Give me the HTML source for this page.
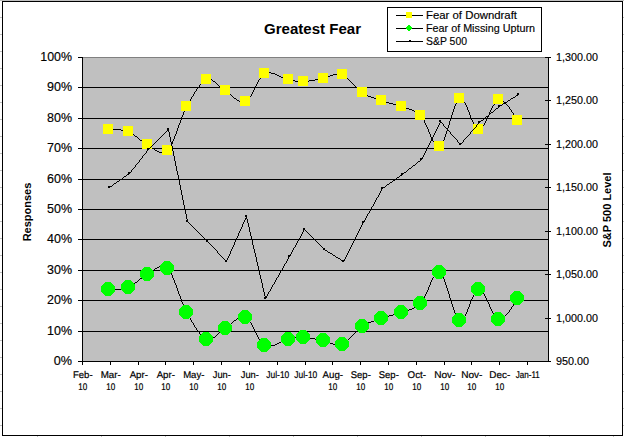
<!DOCTYPE html><html><head><meta charset="utf-8"><style>
html,body{margin:0;padding:0;background:#fff;overflow:hidden;}svg{display:block;}
text{font-family:"Liberation Sans",sans-serif;}
</style></head><body>
<svg width="624" height="437" viewBox="0 0 624 437" shape-rendering="crispEdges">
<rect x="0" y="0" width="624" height="437" fill="#fff"/>
<g fill="#c0c0c0">
<rect x="0" y="0" width="624" height="1"/>
<rect x="0" y="17" width="2" height="1"/>
<rect x="623" y="17" width="1" height="1"/>
<rect x="0" y="34" width="2" height="1"/>
<rect x="623" y="34" width="1" height="1"/>
<rect x="0" y="51" width="2" height="1"/>
<rect x="623" y="51" width="1" height="1"/>
<rect x="0" y="68" width="2" height="1"/>
<rect x="623" y="68" width="1" height="1"/>
<rect x="0" y="85" width="2" height="1"/>
<rect x="623" y="85" width="1" height="1"/>
<rect x="0" y="102" width="2" height="1"/>
<rect x="623" y="102" width="1" height="1"/>
<rect x="0" y="119" width="2" height="1"/>
<rect x="623" y="119" width="1" height="1"/>
<rect x="0" y="136" width="2" height="1"/>
<rect x="623" y="136" width="1" height="1"/>
<rect x="0" y="153" width="2" height="1"/>
<rect x="623" y="153" width="1" height="1"/>
<rect x="0" y="170" width="2" height="1"/>
<rect x="623" y="170" width="1" height="1"/>
<rect x="0" y="187" width="2" height="1"/>
<rect x="623" y="187" width="1" height="1"/>
<rect x="0" y="204" width="2" height="1"/>
<rect x="623" y="204" width="1" height="1"/>
<rect x="0" y="221" width="2" height="1"/>
<rect x="623" y="221" width="1" height="1"/>
<rect x="0" y="238" width="2" height="1"/>
<rect x="623" y="238" width="1" height="1"/>
<rect x="0" y="255" width="2" height="1"/>
<rect x="623" y="255" width="1" height="1"/>
<rect x="0" y="272" width="2" height="1"/>
<rect x="623" y="272" width="1" height="1"/>
<rect x="0" y="289" width="2" height="1"/>
<rect x="623" y="289" width="1" height="1"/>
<rect x="0" y="306" width="2" height="1"/>
<rect x="623" y="306" width="1" height="1"/>
<rect x="0" y="323" width="2" height="1"/>
<rect x="623" y="323" width="1" height="1"/>
<rect x="0" y="340" width="2" height="1"/>
<rect x="623" y="340" width="1" height="1"/>
<rect x="0" y="357" width="2" height="1"/>
<rect x="623" y="357" width="1" height="1"/>
<rect x="0" y="374" width="2" height="1"/>
<rect x="623" y="374" width="1" height="1"/>
<rect x="0" y="391" width="2" height="1"/>
<rect x="623" y="391" width="1" height="1"/>
<rect x="0" y="408" width="2" height="1"/>
<rect x="623" y="408" width="1" height="1"/>
<rect x="0" y="425" width="2" height="1"/>
<rect x="623" y="425" width="1" height="1"/>
<rect x="37" y="436" width="1" height="1"/>
<rect x="101" y="436" width="1" height="1"/>
<rect x="165" y="436" width="1" height="1"/>
<rect x="229" y="436" width="1" height="1"/>
<rect x="293" y="436" width="1" height="1"/>
<rect x="357" y="436" width="1" height="1"/>
<rect x="421" y="436" width="1" height="1"/>
<rect x="485" y="436" width="1" height="1"/>
<rect x="549" y="436" width="1" height="1"/>
<rect x="613" y="436" width="1" height="1"/>
</g>
<rect x="2.5" y="1.5" width="620" height="434" fill="none" stroke="#000" stroke-width="1"/>
<rect x="82" y="57" width="467" height="305" fill="#c0c0c0"/>
<rect x="82" y="57" width="467" height="1" fill="#808080"/>
<g fill="#000">
<rect x="83" y="87" width="465" height="1"/>
<rect x="83" y="118" width="465" height="1"/>
<rect x="83" y="148" width="465" height="1"/>
<rect x="83" y="179" width="465" height="1"/>
<rect x="83" y="209" width="465" height="1"/>
<rect x="83" y="239" width="465" height="1"/>
<rect x="83" y="270" width="465" height="1"/>
<rect x="83" y="300" width="465" height="1"/>
<rect x="83" y="331" width="465" height="1"/>
<rect x="82" y="57" width="1" height="305"/>
<rect x="548" y="57" width="1" height="305"/>
<rect x="82" y="361" width="467" height="1"/>
<rect x="78" y="57" width="4" height="1"/>
<rect x="78" y="87" width="4" height="1"/>
<rect x="78" y="118" width="4" height="1"/>
<rect x="78" y="148" width="4" height="1"/>
<rect x="78" y="179" width="4" height="1"/>
<rect x="78" y="209" width="4" height="1"/>
<rect x="78" y="239" width="4" height="1"/>
<rect x="78" y="270" width="4" height="1"/>
<rect x="78" y="300" width="4" height="1"/>
<rect x="78" y="331" width="4" height="1"/>
<rect x="78" y="361" width="4" height="1"/>
<rect x="545" y="57" width="6" height="1"/>
<rect x="545" y="100" width="6" height="1"/>
<rect x="545" y="144" width="6" height="1"/>
<rect x="545" y="187" width="6" height="1"/>
<rect x="545" y="231" width="6" height="1"/>
<rect x="545" y="274" width="6" height="1"/>
<rect x="545" y="318" width="6" height="1"/>
<rect x="545" y="361" width="6" height="1"/>
<rect x="82" y="362" width="1" height="3"/>
<rect x="110" y="362" width="1" height="3"/>
<rect x="138" y="362" width="1" height="3"/>
<rect x="165" y="362" width="1" height="3"/>
<rect x="193" y="362" width="1" height="3"/>
<rect x="221" y="362" width="1" height="3"/>
<rect x="249" y="362" width="1" height="3"/>
<rect x="277" y="362" width="1" height="3"/>
<rect x="305" y="362" width="1" height="3"/>
<rect x="332" y="362" width="1" height="3"/>
<rect x="360" y="362" width="1" height="3"/>
<rect x="388" y="362" width="1" height="3"/>
<rect x="416" y="362" width="1" height="3"/>
<rect x="444" y="362" width="1" height="3"/>
<rect x="471" y="362" width="1" height="3"/>
<rect x="499" y="362" width="1" height="3"/>
<rect x="527" y="362" width="1" height="3"/>
</g>
<path d="M265 72h6v1h-6zM264 73h1v1h-1zM271 73h4v1h-4zM337 73h3v1h-3zM263 74h1v1h-1zM275 74h2v1h-2zM333 74h4v1h-4zM340 74h3v1h-3zM262 75h1v1h-1zM277 75h2v1h-2zM330 75h3v1h-3zM343 75h2v1h-2zM261 76h1v1h-1zM279 76h2v1h-2zM328 76h2v1h-2zM345 76h1v1h-1zM260 77h1v1h-1zM281 77h3v1h-3zM325 77h3v1h-3zM346 77h1v1h-1zM260 78h1v1h-1zM284 78h2v1h-2zM320 78h5v1h-5zM347 78h1v1h-1zM205 79h7v1h-7zM259 79h1v1h-1zM286 79h4v1h-4zM315 79h5v1h-5zM348 79h1v1h-1zM204 80h1v1h-1zM212 80h1v1h-1zM258 80h1v1h-1zM290 80h5v1h-5zM309 80h6v1h-6zM349 80h1v1h-1zM203 81h1v1h-1zM213 81h2v1h-2zM258 81h1v1h-1zM295 81h14v1h-14zM350 81h1v1h-1zM202 82h1v1h-1zM215 82h1v1h-1zM257 82h1v1h-1zM351 82h1v1h-1zM201 83h1v1h-1zM216 83h1v1h-1zM257 83h1v1h-1zM352 83h1v1h-1zM200 84h1v1h-1zM217 84h1v1h-1zM256 84h1v1h-1zM353 84h1v1h-1zM199 85h1v1h-1zM218 85h1v1h-1zM256 85h1v1h-1zM354 85h1v1h-1zM199 86h1v1h-1zM219 86h1v1h-1zM255 86h1v1h-1zM355 86h1v1h-1zM198 87h1v1h-1zM220 87h2v1h-2zM255 87h1v1h-1zM356 87h1v1h-1zM197 88h1v1h-1zM222 88h1v1h-1zM254 88h1v1h-1zM357 88h1v1h-1zM196 89h1v1h-1zM223 89h1v1h-1zM254 89h1v1h-1zM358 89h1v1h-1zM196 90h1v1h-1zM224 90h2v1h-2zM253 90h1v1h-1zM359 90h1v1h-1zM195 91h1v1h-1zM226 91h1v1h-1zM253 91h1v1h-1zM360 91h1v1h-1zM194 92h1v1h-1zM227 92h2v1h-2zM252 92h1v1h-1zM361 92h2v1h-2zM194 93h1v1h-1zM229 93h1v1h-1zM252 93h1v1h-1zM363 93h1v1h-1zM193 94h1v1h-1zM230 94h1v1h-1zM251 94h1v1h-1zM364 94h2v1h-2zM193 95h1v1h-1zM231 95h1v1h-1zM251 95h1v1h-1zM366 95h2v1h-2zM192 96h1v1h-1zM232 96h1v1h-1zM250 96h1v1h-1zM368 96h3v1h-3zM191 97h1v1h-1zM233 97h1v1h-1zM249 97h1v1h-1zM371 97h3v1h-3zM191 98h1v1h-1zM234 98h2v1h-2zM248 98h1v1h-1zM374 98h3v1h-3zM459 98h2v1h-2zM190 99h1v1h-1zM236 99h1v1h-1zM247 99h1v1h-1zM377 99h3v1h-3zM458 99h1v1h-1zM461 99h1v1h-1zM498 99h3v1h-3zM190 100h1v1h-1zM237 100h2v1h-2zM246 100h1v1h-1zM380 100h2v1h-2zM457 100h1v1h-1zM462 100h1v1h-1zM497 100h1v1h-1zM501 100h1v1h-1zM189 101h1v1h-1zM239 101h7v1h-7zM382 101h4v1h-4zM457 101h1v1h-1zM463 101h1v1h-1zM496 101h1v1h-1zM502 101h2v1h-2zM188 102h1v1h-1zM386 102h3v1h-3zM456 102h1v1h-1zM464 102h1v1h-1zM495 102h1v1h-1zM504 102h1v1h-1zM188 103h1v1h-1zM389 103h4v1h-4zM456 103h1v1h-1zM465 103h1v1h-1zM494 103h1v1h-1zM505 103h1v1h-1zM187 104h1v1h-1zM393 104h4v1h-4zM455 104h1v1h-1zM465 104h1v1h-1zM494 104h1v1h-1zM506 104h1v1h-1zM187 105h1v1h-1zM397 105h3v1h-3zM455 105h1v1h-1zM466 105h1v1h-1zM493 105h1v1h-1zM507 105h1v1h-1zM186 106h1v1h-1zM400 106h2v1h-2zM454 106h1v1h-1zM466 106h1v1h-1zM492 106h1v1h-1zM508 106h1v1h-1zM186 107h1v1h-1zM402 107h4v1h-4zM454 107h1v1h-1zM467 107h1v1h-1zM492 107h1v1h-1zM509 107h1v1h-1zM185 108h1v1h-1zM406 108h3v1h-3zM454 108h1v1h-1zM467 108h1v1h-1zM491 108h1v1h-1zM509 108h1v1h-1zM185 109h1v1h-1zM409 109h3v1h-3zM453 109h1v1h-1zM467 109h1v1h-1zM491 109h1v1h-1zM510 109h1v1h-1zM184 110h1v1h-1zM412 110h2v1h-2zM453 110h1v1h-1zM468 110h1v1h-1zM490 110h1v1h-1zM511 110h1v1h-1zM184 111h1v1h-1zM414 111h2v1h-2zM453 111h1v1h-1zM468 111h1v1h-1zM490 111h1v1h-1zM511 111h1v1h-1zM183 112h1v1h-1zM416 112h1v1h-1zM452 112h1v1h-1zM469 112h1v1h-1zM489 112h1v1h-1zM512 112h1v1h-1zM183 113h1v1h-1zM417 113h1v1h-1zM452 113h1v1h-1zM469 113h1v1h-1zM489 113h1v1h-1zM513 113h1v1h-1zM183 114h1v1h-1zM418 114h2v1h-2zM452 114h1v1h-1zM469 114h1v1h-1zM489 114h1v1h-1zM513 114h1v1h-1zM182 115h1v1h-1zM420 115h1v1h-1zM451 115h1v1h-1zM470 115h1v1h-1zM488 115h1v1h-1zM514 115h1v1h-1zM182 116h1v1h-1zM421 116h1v1h-1zM451 116h1v1h-1zM470 116h1v1h-1zM488 116h1v1h-1zM515 116h1v1h-1zM181 117h1v1h-1zM422 117h1v1h-1zM451 117h1v1h-1zM470 117h1v1h-1zM487 117h1v1h-1zM515 117h1v1h-1zM181 118h1v1h-1zM422 118h1v1h-1zM450 118h1v1h-1zM471 118h1v1h-1zM487 118h1v1h-1zM516 118h1v1h-1zM181 119h1v1h-1zM423 119h1v1h-1zM450 119h1v1h-1zM471 119h1v1h-1zM486 119h1v1h-1zM517 119h1v1h-1zM180 120h1v1h-1zM424 120h1v1h-1zM450 120h1v1h-1zM472 120h1v1h-1zM486 120h1v1h-1zM517 120h1v1h-1zM180 121h1v1h-1zM424 121h1v1h-1zM449 121h1v1h-1zM472 121h1v1h-1zM485 121h1v1h-1zM180 122h1v1h-1zM424 122h1v1h-1zM449 122h1v1h-1zM473 122h1v1h-1zM485 122h1v1h-1zM179 123h1v1h-1zM425 123h1v1h-1zM449 123h1v1h-1zM473 123h1v1h-1zM484 123h1v1h-1zM179 124h1v1h-1zM425 124h1v1h-1zM449 124h1v1h-1zM474 124h1v1h-1zM484 124h1v1h-1zM178 125h1v1h-1zM426 125h1v1h-1zM448 125h1v1h-1zM474 125h1v1h-1zM483 125h1v1h-1zM178 126h1v1h-1zM426 126h1v1h-1zM448 126h1v1h-1zM475 126h1v1h-1zM482 126h1v1h-1zM178 127h1v1h-1zM427 127h1v1h-1zM448 127h1v1h-1zM476 127h1v1h-1zM481 127h1v1h-1zM177 128h1v1h-1zM427 128h1v1h-1zM447 128h1v1h-1zM477 128h1v1h-1zM480 128h1v1h-1zM108 129h13v1h-13zM177 129h1v1h-1zM428 129h1v1h-1zM447 129h1v1h-1zM478 129h2v1h-2zM121 130h6v1h-6zM177 130h1v1h-1zM428 130h1v1h-1zM447 130h1v1h-1zM127 131h2v1h-2zM176 131h1v1h-1zM428 131h1v1h-1zM446 131h1v1h-1zM129 132h2v1h-2zM176 132h1v1h-1zM429 132h1v1h-1zM446 132h1v1h-1zM131 133h2v1h-2zM176 133h1v1h-1zM429 133h1v1h-1zM446 133h1v1h-1zM133 134h1v1h-1zM175 134h1v1h-1zM430 134h1v1h-1zM445 134h1v1h-1zM134 135h1v1h-1zM175 135h1v1h-1zM430 135h1v1h-1zM445 135h1v1h-1zM135 136h2v1h-2zM174 136h1v1h-1zM430 136h1v1h-1zM445 136h1v1h-1zM137 137h1v1h-1zM174 137h1v1h-1zM431 137h1v1h-1zM444 137h1v1h-1zM138 138h1v1h-1zM174 138h1v1h-1zM431 138h1v1h-1zM444 138h1v1h-1zM139 139h1v1h-1zM173 139h1v1h-1zM432 139h1v1h-1zM444 139h1v1h-1zM140 140h2v1h-2zM173 140h1v1h-1zM432 140h1v1h-1zM443 140h1v1h-1zM142 141h1v1h-1zM172 141h1v1h-1zM433 141h1v1h-1zM443 141h1v1h-1zM143 142h1v1h-1zM172 142h1v1h-1zM434 142h1v1h-1zM442 142h1v1h-1zM144 143h2v1h-2zM172 143h1v1h-1zM434 143h1v1h-1zM442 143h1v1h-1zM146 144h2v1h-2zM171 144h1v1h-1zM435 144h1v1h-1zM441 144h1v1h-1zM148 145h2v1h-2zM171 145h1v1h-1zM436 145h1v1h-1zM440 145h1v1h-1zM150 146h1v1h-1zM170 146h1v1h-1zM437 146h3v1h-3zM151 147h1v1h-1zM169 147h1v1h-1zM152 148h2v1h-2zM168 148h1v1h-1zM154 149h1v1h-1zM167 149h1v1h-1zM155 150h2v1h-2zM166 150h1v1h-1zM157 151h2v1h-2zM165 151h1v1h-1zM159 152h6v1h-6z" fill="#000"/>
<path fill="#ffff00" d="M103 124h10v10h-10zM123 126h10v10h-10zM142 139h10v10h-10zM162 145h10v10h-10zM181 101h10v10h-10zM201 74h10v10h-10zM220 85h10v10h-10zM240 96h10v10h-10zM259 68h10v10h-10zM283 74h10v10h-10zM298 76h10v10h-10zM318 73h10v10h-10zM337 69h10v10h-10zM357 87h10v10h-10zM376 95h10v10h-10zM396 101h10v10h-10zM415 110h10v10h-10zM434 141h10v10h-10zM454 93h10v10h-10zM473 124h10v10h-10zM493 94h10v10h-10zM512 115h10v10h-10z"/>
<path d="M159 266h6v1h-6zM157 267h2v1h-2zM165 267h1v1h-1zM155 268h2v1h-2zM166 268h1v1h-1zM154 269h1v1h-1zM167 269h1v1h-1zM152 270h2v1h-2zM168 270h1v1h-1zM151 271h1v1h-1zM169 271h1v1h-1zM150 272h1v1h-1zM170 272h1v1h-1zM437 272h3v1h-3zM148 273h2v1h-2zM171 273h1v1h-1zM436 273h1v1h-1zM440 273h1v1h-1zM146 274h2v1h-2zM171 274h1v1h-1zM435 274h1v1h-1zM441 274h1v1h-1zM144 275h2v1h-2zM172 275h1v1h-1zM434 275h1v1h-1zM442 275h1v1h-1zM143 276h1v1h-1zM172 276h1v1h-1zM434 276h1v1h-1zM442 276h1v1h-1zM142 277h1v1h-1zM172 277h1v1h-1zM433 277h1v1h-1zM443 277h1v1h-1zM140 278h2v1h-2zM173 278h1v1h-1zM432 278h1v1h-1zM443 278h1v1h-1zM139 279h1v1h-1zM173 279h1v1h-1zM432 279h1v1h-1zM444 279h1v1h-1zM138 280h1v1h-1zM174 280h1v1h-1zM431 280h1v1h-1zM444 280h1v1h-1zM137 281h1v1h-1zM174 281h1v1h-1zM431 281h1v1h-1zM444 281h1v1h-1zM135 282h2v1h-2zM174 282h1v1h-1zM430 282h1v1h-1zM445 282h1v1h-1zM134 283h1v1h-1zM175 283h1v1h-1zM430 283h1v1h-1zM445 283h1v1h-1zM133 284h1v1h-1zM175 284h1v1h-1zM430 284h1v1h-1zM445 284h1v1h-1zM131 285h2v1h-2zM176 285h1v1h-1zM429 285h1v1h-1zM446 285h1v1h-1zM129 286h2v1h-2zM176 286h1v1h-1zM429 286h1v1h-1zM446 286h1v1h-1zM127 287h2v1h-2zM176 287h1v1h-1zM428 287h1v1h-1zM446 287h1v1h-1zM121 288h6v1h-6zM177 288h1v1h-1zM428 288h1v1h-1zM447 288h1v1h-1zM108 289h13v1h-13zM177 289h1v1h-1zM428 289h1v1h-1zM447 289h1v1h-1zM478 289h2v1h-2zM177 290h1v1h-1zM427 290h1v1h-1zM447 290h1v1h-1zM477 290h1v1h-1zM480 290h1v1h-1zM178 291h1v1h-1zM427 291h1v1h-1zM448 291h1v1h-1zM476 291h1v1h-1zM481 291h1v1h-1zM178 292h1v1h-1zM426 292h1v1h-1zM448 292h1v1h-1zM475 292h1v1h-1zM482 292h1v1h-1zM178 293h1v1h-1zM426 293h1v1h-1zM448 293h1v1h-1zM474 293h1v1h-1zM483 293h1v1h-1zM179 294h1v1h-1zM425 294h1v1h-1zM449 294h1v1h-1zM474 294h1v1h-1zM484 294h1v1h-1zM179 295h1v1h-1zM425 295h1v1h-1zM449 295h1v1h-1zM473 295h1v1h-1zM484 295h1v1h-1zM180 296h1v1h-1zM424 296h1v1h-1zM449 296h1v1h-1zM473 296h1v1h-1zM485 296h1v1h-1zM180 297h1v1h-1zM424 297h1v1h-1zM449 297h1v1h-1zM472 297h1v1h-1zM485 297h1v1h-1zM180 298h1v1h-1zM424 298h1v1h-1zM450 298h1v1h-1zM472 298h1v1h-1zM486 298h1v1h-1zM517 298h1v1h-1zM181 299h1v1h-1zM423 299h1v1h-1zM450 299h1v1h-1zM471 299h1v1h-1zM486 299h1v1h-1zM517 299h1v1h-1zM181 300h1v1h-1zM422 300h1v1h-1zM450 300h1v1h-1zM471 300h1v1h-1zM487 300h1v1h-1zM516 300h1v1h-1zM181 301h1v1h-1zM422 301h1v1h-1zM451 301h1v1h-1zM470 301h1v1h-1zM487 301h1v1h-1zM515 301h1v1h-1zM182 302h1v1h-1zM421 302h1v1h-1zM451 302h1v1h-1zM470 302h1v1h-1zM488 302h1v1h-1zM515 302h1v1h-1zM182 303h1v1h-1zM420 303h1v1h-1zM451 303h1v1h-1zM470 303h1v1h-1zM488 303h1v1h-1zM514 303h1v1h-1zM183 304h1v1h-1zM418 304h2v1h-2zM452 304h1v1h-1zM469 304h1v1h-1zM489 304h1v1h-1zM513 304h1v1h-1zM183 305h1v1h-1zM417 305h1v1h-1zM452 305h1v1h-1zM469 305h1v1h-1zM489 305h1v1h-1zM513 305h1v1h-1zM183 306h1v1h-1zM416 306h1v1h-1zM452 306h1v1h-1zM469 306h1v1h-1zM489 306h1v1h-1zM512 306h1v1h-1zM184 307h1v1h-1zM414 307h2v1h-2zM453 307h1v1h-1zM468 307h1v1h-1zM490 307h1v1h-1zM511 307h1v1h-1zM184 308h1v1h-1zM412 308h2v1h-2zM453 308h1v1h-1zM468 308h1v1h-1zM490 308h1v1h-1zM511 308h1v1h-1zM185 309h1v1h-1zM409 309h3v1h-3zM453 309h1v1h-1zM467 309h1v1h-1zM491 309h1v1h-1zM510 309h1v1h-1zM185 310h1v1h-1zM406 310h3v1h-3zM454 310h1v1h-1zM467 310h1v1h-1zM491 310h1v1h-1zM509 310h1v1h-1zM186 311h1v1h-1zM402 311h4v1h-4zM454 311h1v1h-1zM467 311h1v1h-1zM492 311h1v1h-1zM509 311h1v1h-1zM186 312h1v1h-1zM400 312h2v1h-2zM454 312h1v1h-1zM466 312h1v1h-1zM492 312h1v1h-1zM508 312h1v1h-1zM187 313h1v1h-1zM397 313h3v1h-3zM455 313h1v1h-1zM466 313h1v1h-1zM493 313h1v1h-1zM507 313h1v1h-1zM187 314h1v1h-1zM393 314h4v1h-4zM455 314h1v1h-1zM465 314h1v1h-1zM494 314h1v1h-1zM506 314h1v1h-1zM188 315h1v1h-1zM389 315h4v1h-4zM456 315h1v1h-1zM465 315h1v1h-1zM494 315h1v1h-1zM505 315h1v1h-1zM188 316h1v1h-1zM386 316h3v1h-3zM456 316h1v1h-1zM464 316h1v1h-1zM495 316h1v1h-1zM504 316h1v1h-1zM189 317h1v1h-1zM239 317h7v1h-7zM382 317h4v1h-4zM457 317h1v1h-1zM463 317h1v1h-1zM496 317h1v1h-1zM502 317h2v1h-2zM190 318h1v1h-1zM237 318h2v1h-2zM246 318h1v1h-1zM380 318h2v1h-2zM457 318h1v1h-1zM462 318h1v1h-1zM497 318h1v1h-1zM501 318h1v1h-1zM190 319h1v1h-1zM236 319h1v1h-1zM247 319h1v1h-1zM377 319h3v1h-3zM458 319h1v1h-1zM461 319h1v1h-1zM498 319h3v1h-3zM191 320h1v1h-1zM234 320h2v1h-2zM248 320h1v1h-1zM374 320h3v1h-3zM459 320h2v1h-2zM191 321h1v1h-1zM233 321h1v1h-1zM249 321h1v1h-1zM371 321h3v1h-3zM192 322h1v1h-1zM232 322h1v1h-1zM250 322h1v1h-1zM368 322h3v1h-3zM193 323h1v1h-1zM231 323h1v1h-1zM251 323h1v1h-1zM366 323h2v1h-2zM193 324h1v1h-1zM230 324h1v1h-1zM251 324h1v1h-1zM364 324h2v1h-2zM194 325h1v1h-1zM229 325h1v1h-1zM252 325h1v1h-1zM363 325h1v1h-1zM194 326h1v1h-1zM227 326h2v1h-2zM252 326h1v1h-1zM361 326h2v1h-2zM195 327h1v1h-1zM226 327h1v1h-1zM253 327h1v1h-1zM360 327h1v1h-1zM196 328h1v1h-1zM224 328h2v1h-2zM253 328h1v1h-1zM359 328h1v1h-1zM196 329h1v1h-1zM223 329h1v1h-1zM254 329h1v1h-1zM358 329h1v1h-1zM197 330h1v1h-1zM222 330h1v1h-1zM254 330h1v1h-1zM357 330h1v1h-1zM198 331h1v1h-1zM220 331h2v1h-2zM255 331h1v1h-1zM356 331h1v1h-1zM199 332h1v1h-1zM219 332h1v1h-1zM255 332h1v1h-1zM355 332h1v1h-1zM199 333h1v1h-1zM218 333h1v1h-1zM256 333h1v1h-1zM354 333h1v1h-1zM200 334h1v1h-1zM217 334h1v1h-1zM256 334h1v1h-1zM353 334h1v1h-1zM201 335h1v1h-1zM216 335h1v1h-1zM257 335h1v1h-1zM352 335h1v1h-1zM202 336h1v1h-1zM215 336h1v1h-1zM257 336h1v1h-1zM351 336h1v1h-1zM203 337h1v1h-1zM213 337h2v1h-2zM258 337h1v1h-1zM295 337h14v1h-14zM350 337h1v1h-1zM204 338h1v1h-1zM212 338h1v1h-1zM258 338h1v1h-1zM290 338h5v1h-5zM309 338h6v1h-6zM349 338h1v1h-1zM205 339h7v1h-7zM259 339h1v1h-1zM286 339h4v1h-4zM315 339h5v1h-5zM348 339h1v1h-1zM260 340h1v1h-1zM284 340h2v1h-2zM320 340h5v1h-5zM347 340h1v1h-1zM260 341h1v1h-1zM281 341h3v1h-3zM325 341h3v1h-3zM346 341h1v1h-1zM261 342h1v1h-1zM279 342h2v1h-2zM328 342h2v1h-2zM345 342h1v1h-1zM262 343h1v1h-1zM277 343h2v1h-2zM330 343h3v1h-3zM343 343h2v1h-2zM263 344h1v1h-1zM275 344h2v1h-2zM333 344h4v1h-4zM340 344h3v1h-3zM264 345h1v1h-1zM271 345h4v1h-4zM337 345h3v1h-3zM265 346h6v1h-6z" fill="#000"/>
<path fill="#00ff00" d="M105 282L111 282L111 283L112 283L112 284L113 284L113 285L114 285L114 286L115 286L115 292L114 292L114 293L113 293L113 294L112 294L112 295L111 295L111 296L105 296L105 295L104 295L104 294L103 294L103 293L102 293L102 292L101 292L101 286L102 286L102 285L103 285L103 284L104 284L104 283L105 283ZM125 280L131 280L131 281L132 281L132 282L133 282L133 283L134 283L134 284L135 284L135 290L134 290L134 291L133 291L133 292L132 292L132 293L131 293L131 294L125 294L125 293L124 293L124 292L123 292L123 291L122 291L122 290L121 290L121 284L122 284L122 283L123 283L123 282L124 282L124 281L125 281ZM144 267L150 267L150 268L151 268L151 269L152 269L152 270L153 270L153 271L154 271L154 277L153 277L153 278L152 278L152 279L151 279L151 280L150 280L150 281L144 281L144 280L143 280L143 279L142 279L142 278L141 278L141 277L140 277L140 271L141 271L141 270L142 270L142 269L143 269L143 268L144 268ZM164 261L170 261L170 262L171 262L171 263L172 263L172 264L173 264L173 265L174 265L174 271L173 271L173 272L172 272L172 273L171 273L171 274L170 274L170 275L164 275L164 274L163 274L163 273L162 273L162 272L161 272L161 271L160 271L160 265L161 265L161 264L162 264L162 263L163 263L163 262L164 262ZM183 305L189 305L189 306L190 306L190 307L191 307L191 308L192 308L192 309L193 309L193 315L192 315L192 316L191 316L191 317L190 317L190 318L189 318L189 319L183 319L183 318L182 318L182 317L181 317L181 316L180 316L180 315L179 315L179 309L180 309L180 308L181 308L181 307L182 307L182 306L183 306ZM203 332L209 332L209 333L210 333L210 334L211 334L211 335L212 335L212 336L213 336L213 342L212 342L212 343L211 343L211 344L210 344L210 345L209 345L209 346L203 346L203 345L202 345L202 344L201 344L201 343L200 343L200 342L199 342L199 336L200 336L200 335L201 335L201 334L202 334L202 333L203 333ZM222 321L228 321L228 322L229 322L229 323L230 323L230 324L231 324L231 325L232 325L232 331L231 331L231 332L230 332L230 333L229 333L229 334L228 334L228 335L222 335L222 334L221 334L221 333L220 333L220 332L219 332L219 331L218 331L218 325L219 325L219 324L220 324L220 323L221 323L221 322L222 322ZM242 310L248 310L248 311L249 311L249 312L250 312L250 313L251 313L251 314L252 314L252 320L251 320L251 321L250 321L250 322L249 322L249 323L248 323L248 324L242 324L242 323L241 323L241 322L240 322L240 321L239 321L239 320L238 320L238 314L239 314L239 313L240 313L240 312L241 312L241 311L242 311ZM261 338L267 338L267 339L268 339L268 340L269 340L269 341L270 341L270 342L271 342L271 348L270 348L270 349L269 349L269 350L268 350L268 351L267 351L267 352L261 352L261 351L260 351L260 350L259 350L259 349L258 349L258 348L257 348L257 342L258 342L258 341L259 341L259 340L260 340L260 339L261 339ZM285 332L291 332L291 333L292 333L292 334L293 334L293 335L294 335L294 336L295 336L295 342L294 342L294 343L293 343L293 344L292 344L292 345L291 345L291 346L285 346L285 345L284 345L284 344L283 344L283 343L282 343L282 342L281 342L281 336L282 336L282 335L283 335L283 334L284 334L284 333L285 333ZM300 330L306 330L306 331L307 331L307 332L308 332L308 333L309 333L309 334L310 334L310 340L309 340L309 341L308 341L308 342L307 342L307 343L306 343L306 344L300 344L300 343L299 343L299 342L298 342L298 341L297 341L297 340L296 340L296 334L297 334L297 333L298 333L298 332L299 332L299 331L300 331ZM320 333L326 333L326 334L327 334L327 335L328 335L328 336L329 336L329 337L330 337L330 343L329 343L329 344L328 344L328 345L327 345L327 346L326 346L326 347L320 347L320 346L319 346L319 345L318 345L318 344L317 344L317 343L316 343L316 337L317 337L317 336L318 336L318 335L319 335L319 334L320 334ZM339 337L345 337L345 338L346 338L346 339L347 339L347 340L348 340L348 341L349 341L349 347L348 347L348 348L347 348L347 349L346 349L346 350L345 350L345 351L339 351L339 350L338 350L338 349L337 349L337 348L336 348L336 347L335 347L335 341L336 341L336 340L337 340L337 339L338 339L338 338L339 338ZM359 319L365 319L365 320L366 320L366 321L367 321L367 322L368 322L368 323L369 323L369 329L368 329L368 330L367 330L367 331L366 331L366 332L365 332L365 333L359 333L359 332L358 332L358 331L357 331L357 330L356 330L356 329L355 329L355 323L356 323L356 322L357 322L357 321L358 321L358 320L359 320ZM378 311L384 311L384 312L385 312L385 313L386 313L386 314L387 314L387 315L388 315L388 321L387 321L387 322L386 322L386 323L385 323L385 324L384 324L384 325L378 325L378 324L377 324L377 323L376 323L376 322L375 322L375 321L374 321L374 315L375 315L375 314L376 314L376 313L377 313L377 312L378 312ZM398 305L404 305L404 306L405 306L405 307L406 307L406 308L407 308L407 309L408 309L408 315L407 315L407 316L406 316L406 317L405 317L405 318L404 318L404 319L398 319L398 318L397 318L397 317L396 317L396 316L395 316L395 315L394 315L394 309L395 309L395 308L396 308L396 307L397 307L397 306L398 306ZM417 296L423 296L423 297L424 297L424 298L425 298L425 299L426 299L426 300L427 300L427 306L426 306L426 307L425 307L425 308L424 308L424 309L423 309L423 310L417 310L417 309L416 309L416 308L415 308L415 307L414 307L414 306L413 306L413 300L414 300L414 299L415 299L415 298L416 298L416 297L417 297ZM436 265L442 265L442 266L443 266L443 267L444 267L444 268L445 268L445 269L446 269L446 275L445 275L445 276L444 276L444 277L443 277L443 278L442 278L442 279L436 279L436 278L435 278L435 277L434 277L434 276L433 276L433 275L432 275L432 269L433 269L433 268L434 268L434 267L435 267L435 266L436 266ZM456 313L462 313L462 314L463 314L463 315L464 315L464 316L465 316L465 317L466 317L466 323L465 323L465 324L464 324L464 325L463 325L463 326L462 326L462 327L456 327L456 326L455 326L455 325L454 325L454 324L453 324L453 323L452 323L452 317L453 317L453 316L454 316L454 315L455 315L455 314L456 314ZM475 282L481 282L481 283L482 283L482 284L483 284L483 285L484 285L484 286L485 286L485 292L484 292L484 293L483 293L483 294L482 294L482 295L481 295L481 296L475 296L475 295L474 295L474 294L473 294L473 293L472 293L472 292L471 292L471 286L472 286L472 285L473 285L473 284L474 284L474 283L475 283ZM495 312L501 312L501 313L502 313L502 314L503 314L503 315L504 315L504 316L505 316L505 322L504 322L504 323L503 323L503 324L502 324L502 325L501 325L501 326L495 326L495 325L494 325L494 324L493 324L493 323L492 323L492 322L491 322L491 316L492 316L492 315L493 315L493 314L494 314L494 313L495 313ZM514 291L520 291L520 292L521 292L521 293L522 293L522 294L523 294L523 295L524 295L524 301L523 301L523 302L522 302L522 303L521 303L521 304L520 304L520 305L514 305L514 304L513 304L513 303L512 303L512 302L511 302L511 301L510 301L510 295L511 295L511 294L512 294L512 293L513 293L513 292L514 292Z"/>
<path d="M518 94h1v1h-1zM516 95h2v1h-2zM515 96h1v1h-1zM513 97h2v1h-2zM511 98h2v1h-2zM510 99h1v1h-1zM508 100h2v1h-2zM507 101h1v1h-1zM505 102h2v1h-2zM503 103h2v1h-2zM502 104h1v1h-1zM500 105h2v1h-2zM499 106h1v1h-1zM498 107h1v1h-1zM496 108h2v1h-2zM495 109h1v1h-1zM494 110h1v1h-1zM493 111h1v1h-1zM491 112h2v1h-2zM490 113h1v1h-1zM489 114h1v1h-1zM488 115h1v1h-1zM486 116h2v1h-2zM485 117h1v1h-1zM484 118h1v1h-1zM483 119h1v1h-1zM481 120h2v1h-2zM440 121h1v1h-1zM480 121h1v1h-1zM440 122h2v1h-2zM479 122h1v1h-1zM439 123h1v1h-1zM442 123h1v1h-1zM478 123h1v1h-1zM439 124h1v1h-1zM443 124h1v1h-1zM477 124h1v1h-1zM438 125h1v1h-1zM443 125h1v1h-1zM476 125h1v1h-1zM438 126h1v1h-1zM444 126h1v1h-1zM476 126h1v1h-1zM437 127h1v1h-1zM445 127h1v1h-1zM475 127h1v1h-1zM437 128h1v1h-1zM446 128h1v1h-1zM474 128h1v1h-1zM168 129h1v1h-1zM436 129h1v1h-1zM447 129h1v1h-1zM473 129h1v1h-1zM167 130h2v1h-2zM436 130h1v1h-1zM448 130h1v1h-1zM472 130h1v1h-1zM166 131h1v1h-1zM168 131h1v1h-1zM435 131h1v1h-1zM449 131h1v1h-1zM471 131h1v1h-1zM165 132h1v1h-1zM169 132h1v1h-1zM435 132h1v1h-1zM450 132h1v1h-1zM470 132h1v1h-1zM164 133h1v1h-1zM169 133h1v1h-1zM434 133h1v1h-1zM450 133h1v1h-1zM470 133h1v1h-1zM163 134h1v1h-1zM169 134h1v1h-1zM434 134h1v1h-1zM451 134h1v1h-1zM469 134h1v1h-1zM162 135h1v1h-1zM169 135h1v1h-1zM433 135h1v1h-1zM452 135h1v1h-1zM468 135h1v1h-1zM161 136h1v1h-1zM169 136h1v1h-1zM433 136h1v1h-1zM453 136h1v1h-1zM467 136h1v1h-1zM160 137h1v1h-1zM170 137h1v1h-1zM432 137h1v1h-1zM454 137h1v1h-1zM466 137h1v1h-1zM159 138h1v1h-1zM170 138h1v1h-1zM432 138h1v1h-1zM455 138h1v1h-1zM465 138h1v1h-1zM158 139h1v1h-1zM170 139h1v1h-1zM431 139h1v1h-1zM456 139h1v1h-1zM464 139h1v1h-1zM157 140h1v1h-1zM170 140h1v1h-1zM431 140h1v1h-1zM457 140h1v1h-1zM463 140h1v1h-1zM156 141h1v1h-1zM170 141h1v1h-1zM430 141h1v1h-1zM457 141h1v1h-1zM463 141h1v1h-1zM155 142h1v1h-1zM171 142h1v1h-1zM430 142h1v1h-1zM458 142h1v1h-1zM462 142h1v1h-1zM154 143h1v1h-1zM171 143h1v1h-1zM429 143h1v1h-1zM459 143h1v1h-1zM461 143h1v1h-1zM153 144h1v1h-1zM171 144h1v1h-1zM429 144h1v1h-1zM460 144h1v1h-1zM152 145h1v1h-1zM171 145h1v1h-1zM428 145h1v1h-1zM151 146h1v1h-1zM172 146h1v1h-1zM428 146h1v1h-1zM150 147h1v1h-1zM172 147h1v1h-1zM427 147h1v1h-1zM149 148h1v1h-1zM172 148h1v1h-1zM427 148h1v1h-1zM148 149h1v1h-1zM172 149h1v1h-1zM426 149h1v1h-1zM147 150h1v1h-1zM172 150h1v1h-1zM426 150h1v1h-1zM146 151h1v1h-1zM173 151h1v1h-1zM425 151h1v1h-1zM146 152h1v1h-1zM173 152h1v1h-1zM425 152h1v1h-1zM145 153h1v1h-1zM173 153h1v1h-1zM424 153h1v1h-1zM144 154h1v1h-1zM173 154h1v1h-1zM424 154h1v1h-1zM143 155h1v1h-1zM173 155h1v1h-1zM423 155h1v1h-1zM142 156h1v1h-1zM174 156h1v1h-1zM423 156h1v1h-1zM142 157h1v1h-1zM174 157h1v1h-1zM422 157h1v1h-1zM141 158h1v1h-1zM174 158h1v1h-1zM422 158h1v1h-1zM140 159h1v1h-1zM174 159h1v1h-1zM421 159h1v1h-1zM139 160h1v1h-1zM174 160h1v1h-1zM420 160h1v1h-1zM139 161h1v1h-1zM175 161h1v1h-1zM418 161h2v1h-2zM138 162h1v1h-1zM175 162h1v1h-1zM417 162h1v1h-1zM137 163h1v1h-1zM175 163h1v1h-1zM416 163h1v1h-1zM136 164h1v1h-1zM175 164h1v1h-1zM415 164h1v1h-1zM135 165h1v1h-1zM175 165h1v1h-1zM413 165h2v1h-2zM135 166h1v1h-1zM176 166h1v1h-1zM412 166h1v1h-1zM134 167h1v1h-1zM176 167h1v1h-1zM411 167h1v1h-1zM133 168h1v1h-1zM176 168h1v1h-1zM409 168h2v1h-2zM132 169h1v1h-1zM176 169h1v1h-1zM408 169h1v1h-1zM131 170h1v1h-1zM176 170h1v1h-1zM407 170h1v1h-1zM131 171h1v1h-1zM177 171h1v1h-1zM406 171h1v1h-1zM130 172h1v1h-1zM177 172h1v1h-1zM404 172h2v1h-2zM129 173h1v1h-1zM177 173h1v1h-1zM403 173h1v1h-1zM127 174h2v1h-2zM177 174h1v1h-1zM402 174h1v1h-1zM126 175h1v1h-1zM178 175h1v1h-1zM400 175h2v1h-2zM124 176h2v1h-2zM178 176h1v1h-1zM399 176h1v1h-1zM123 177h1v1h-1zM178 177h1v1h-1zM397 177h2v1h-2zM122 178h1v1h-1zM178 178h1v1h-1zM396 178h1v1h-1zM120 179h2v1h-2zM178 179h1v1h-1zM395 179h1v1h-1zM119 180h1v1h-1zM179 180h1v1h-1zM393 180h2v1h-2zM117 181h2v1h-2zM179 181h1v1h-1zM392 181h1v1h-1zM116 182h1v1h-1zM179 182h1v1h-1zM390 182h2v1h-2zM114 183h2v1h-2zM179 183h1v1h-1zM389 183h1v1h-1zM113 184h1v1h-1zM179 184h1v1h-1zM387 184h2v1h-2zM112 185h1v1h-1zM180 185h1v1h-1zM386 185h1v1h-1zM110 186h2v1h-2zM180 186h1v1h-1zM385 186h1v1h-1zM109 187h1v1h-1zM180 187h1v1h-1zM383 187h2v1h-2zM180 188h1v1h-1zM382 188h1v1h-1zM180 189h1v1h-1zM381 189h1v1h-1zM181 190h1v1h-1zM381 190h1v1h-1zM181 191h1v1h-1zM380 191h1v1h-1zM181 192h1v1h-1zM380 192h1v1h-1zM181 193h1v1h-1zM379 193h1v1h-1zM181 194h1v1h-1zM379 194h1v1h-1zM182 195h1v1h-1zM378 195h1v1h-1zM182 196h1v1h-1zM378 196h1v1h-1zM182 197h1v1h-1zM377 197h1v1h-1zM182 198h1v1h-1zM376 198h1v1h-1zM182 199h1v1h-1zM376 199h1v1h-1zM183 200h1v1h-1zM375 200h1v1h-1zM183 201h1v1h-1zM375 201h1v1h-1zM183 202h1v1h-1zM374 202h1v1h-1zM183 203h1v1h-1zM374 203h1v1h-1zM183 204h1v1h-1zM373 204h1v1h-1zM184 205h1v1h-1zM373 205h1v1h-1zM184 206h1v1h-1zM372 206h1v1h-1zM184 207h1v1h-1zM371 207h1v1h-1zM184 208h1v1h-1zM371 208h1v1h-1zM185 209h1v1h-1zM370 209h1v1h-1zM185 210h1v1h-1zM370 210h1v1h-1zM185 211h1v1h-1zM369 211h1v1h-1zM185 212h1v1h-1zM369 212h1v1h-1zM185 213h1v1h-1zM368 213h1v1h-1zM186 214h1v1h-1zM367 214h1v1h-1zM186 215h1v1h-1zM367 215h1v1h-1zM186 216h1v1h-1zM246 216h1v1h-1zM366 216h1v1h-1zM186 217h1v1h-1zM246 217h1v1h-1zM366 217h1v1h-1zM186 218h1v1h-1zM245 218h2v1h-2zM365 218h1v1h-1zM187 219h1v1h-1zM245 219h1v1h-1zM247 219h1v1h-1zM365 219h1v1h-1zM187 220h1v1h-1zM244 220h1v1h-1zM247 220h1v1h-1zM364 220h1v1h-1zM187 221h1v1h-1zM244 221h1v1h-1zM247 221h1v1h-1zM364 221h1v1h-1zM188 222h1v1h-1zM243 222h1v1h-1zM247 222h1v1h-1zM363 222h1v1h-1zM189 223h1v1h-1zM243 223h1v1h-1zM248 223h1v1h-1zM362 223h1v1h-1zM190 224h1v1h-1zM242 224h1v1h-1zM248 224h1v1h-1zM362 224h1v1h-1zM191 225h1v1h-1zM242 225h1v1h-1zM248 225h1v1h-1zM361 225h1v1h-1zM192 226h1v1h-1zM242 226h1v1h-1zM248 226h1v1h-1zM361 226h1v1h-1zM193 227h1v1h-1zM241 227h1v1h-1zM249 227h1v1h-1zM360 227h1v1h-1zM194 228h1v1h-1zM241 228h1v1h-1zM249 228h1v1h-1zM360 228h1v1h-1zM195 229h1v1h-1zM240 229h1v1h-1zM249 229h1v1h-1zM304 229h1v1h-1zM359 229h1v1h-1zM196 230h1v1h-1zM240 230h1v1h-1zM249 230h1v1h-1zM303 230h1v1h-1zM305 230h1v1h-1zM359 230h1v1h-1zM197 231h1v1h-1zM239 231h1v1h-1zM249 231h1v1h-1zM303 231h1v1h-1zM306 231h1v1h-1zM358 231h1v1h-1zM198 232h1v1h-1zM239 232h1v1h-1zM250 232h1v1h-1zM302 232h1v1h-1zM307 232h1v1h-1zM358 232h1v1h-1zM199 233h1v1h-1zM238 233h1v1h-1zM250 233h1v1h-1zM302 233h1v1h-1zM308 233h1v1h-1zM357 233h1v1h-1zM200 234h1v1h-1zM238 234h1v1h-1zM250 234h1v1h-1zM301 234h1v1h-1zM309 234h1v1h-1zM357 234h1v1h-1zM201 235h1v1h-1zM238 235h1v1h-1zM250 235h1v1h-1zM301 235h1v1h-1zM310 235h1v1h-1zM356 235h1v1h-1zM202 236h1v1h-1zM237 236h1v1h-1zM251 236h1v1h-1zM300 236h1v1h-1zM311 236h1v1h-1zM356 236h1v1h-1zM203 237h1v1h-1zM237 237h1v1h-1zM251 237h1v1h-1zM300 237h1v1h-1zM312 237h1v1h-1zM355 237h1v1h-1zM204 238h1v1h-1zM236 238h1v1h-1zM251 238h1v1h-1zM299 238h1v1h-1zM313 238h1v1h-1zM355 238h1v1h-1zM205 239h1v1h-1zM236 239h1v1h-1zM251 239h1v1h-1zM298 239h1v1h-1zM314 239h1v1h-1zM354 239h1v1h-1zM206 240h1v1h-1zM235 240h1v1h-1zM252 240h1v1h-1zM298 240h1v1h-1zM315 240h1v1h-1zM354 240h1v1h-1zM207 241h1v1h-1zM235 241h1v1h-1zM252 241h1v1h-1zM297 241h1v1h-1zM316 241h1v1h-1zM353 241h1v1h-1zM208 242h1v1h-1zM234 242h1v1h-1zM252 242h1v1h-1zM297 242h1v1h-1zM317 242h1v1h-1zM353 242h1v1h-1zM209 243h1v1h-1zM234 243h1v1h-1zM252 243h1v1h-1zM296 243h1v1h-1zM318 243h1v1h-1zM352 243h1v1h-1zM210 244h1v1h-1zM234 244h1v1h-1zM252 244h1v1h-1zM296 244h1v1h-1zM319 244h1v1h-1zM352 244h1v1h-1zM211 245h1v1h-1zM233 245h1v1h-1zM253 245h1v1h-1zM295 245h1v1h-1zM320 245h1v1h-1zM351 245h1v1h-1zM212 246h1v1h-1zM233 246h1v1h-1zM253 246h1v1h-1zM295 246h1v1h-1zM321 246h1v1h-1zM351 246h1v1h-1zM213 247h1v1h-1zM232 247h1v1h-1zM253 247h1v1h-1zM294 247h1v1h-1zM322 247h1v1h-1zM350 247h1v1h-1zM214 248h1v1h-1zM232 248h1v1h-1zM253 248h1v1h-1zM293 248h1v1h-1zM323 248h1v1h-1zM350 248h1v1h-1zM215 249h1v1h-1zM231 249h1v1h-1zM254 249h1v1h-1zM293 249h1v1h-1zM324 249h1v1h-1zM349 249h1v1h-1zM216 250h1v1h-1zM231 250h1v1h-1zM254 250h1v1h-1zM292 250h1v1h-1zM325 250h2v1h-2zM349 250h1v1h-1zM217 251h1v1h-1zM230 251h1v1h-1zM254 251h1v1h-1zM292 251h1v1h-1zM327 251h1v1h-1zM348 251h1v1h-1zM217 252h1v1h-1zM230 252h1v1h-1zM254 252h1v1h-1zM291 252h1v1h-1zM328 252h2v1h-2zM348 252h1v1h-1zM218 253h1v1h-1zM230 253h1v1h-1zM255 253h1v1h-1zM291 253h1v1h-1zM330 253h2v1h-2zM347 253h1v1h-1zM219 254h1v1h-1zM229 254h1v1h-1zM255 254h1v1h-1zM290 254h1v1h-1zM332 254h1v1h-1zM347 254h1v1h-1zM220 255h1v1h-1zM229 255h1v1h-1zM255 255h1v1h-1zM290 255h1v1h-1zM333 255h2v1h-2zM346 255h1v1h-1zM221 256h1v1h-1zM228 256h1v1h-1zM255 256h1v1h-1zM289 256h1v1h-1zM335 256h1v1h-1zM346 256h1v1h-1zM222 257h1v1h-1zM228 257h1v1h-1zM256 257h1v1h-1zM288 257h1v1h-1zM336 257h2v1h-2zM345 257h1v1h-1zM223 258h1v1h-1zM227 258h1v1h-1zM256 258h1v1h-1zM288 258h1v1h-1zM338 258h2v1h-2zM345 258h1v1h-1zM224 259h1v1h-1zM227 259h1v1h-1zM256 259h1v1h-1zM287 259h1v1h-1zM340 259h1v1h-1zM344 259h1v1h-1zM225 260h2v1h-2zM256 260h1v1h-1zM287 260h1v1h-1zM341 260h2v1h-2zM344 260h1v1h-1zM226 261h1v1h-1zM256 261h1v1h-1zM286 261h1v1h-1zM343 261h1v1h-1zM257 262h1v1h-1zM286 262h1v1h-1zM257 263h1v1h-1zM285 263h1v1h-1zM257 264h1v1h-1zM284 264h1v1h-1zM257 265h1v1h-1zM284 265h1v1h-1zM258 266h1v1h-1zM283 266h1v1h-1zM258 267h1v1h-1zM283 267h1v1h-1zM258 268h1v1h-1zM282 268h1v1h-1zM258 269h1v1h-1zM282 269h1v1h-1zM259 270h1v1h-1zM281 270h1v1h-1zM259 271h1v1h-1zM280 271h1v1h-1zM259 272h1v1h-1zM280 272h1v1h-1zM259 273h1v1h-1zM279 273h1v1h-1zM259 274h1v1h-1zM279 274h1v1h-1zM260 275h1v1h-1zM278 275h1v1h-1zM260 276h1v1h-1zM278 276h1v1h-1zM260 277h1v1h-1zM277 277h1v1h-1zM260 278h1v1h-1zM276 278h1v1h-1zM261 279h1v1h-1zM276 279h1v1h-1zM261 280h1v1h-1zM275 280h1v1h-1zM261 281h1v1h-1zM275 281h1v1h-1zM261 282h1v1h-1zM274 282h1v1h-1zM262 283h1v1h-1zM274 283h1v1h-1zM262 284h1v1h-1zM273 284h1v1h-1zM262 285h1v1h-1zM272 285h1v1h-1zM262 286h1v1h-1zM272 286h1v1h-1zM262 287h1v1h-1zM271 287h1v1h-1zM263 288h1v1h-1zM271 288h1v1h-1zM263 289h1v1h-1zM270 289h1v1h-1zM263 290h1v1h-1zM270 290h1v1h-1zM263 291h1v1h-1zM269 291h1v1h-1zM264 292h1v1h-1zM268 292h1v1h-1zM264 293h1v1h-1zM268 293h1v1h-1zM264 294h1v1h-1zM267 294h1v1h-1zM264 295h1v1h-1zM267 295h1v1h-1zM265 296h2v1h-2zM265 297h2v1h-2zM265 298h1v1h-1z" fill="#000"/>
<path fill="#000" d="M108 186h2v2h-2zM128 172h2v2h-2zM147 148h2v2h-2zM167 128h2v2h-2zM186 220h2v2h-2zM206 240h2v2h-2zM225 260h2v2h-2zM245 215h2v2h-2zM264 297h2v2h-2zM288 255h2v2h-2zM303 228h2v2h-2zM323 248h2v2h-2zM342 260h2v2h-2zM362 221h2v2h-2zM381 187h2v2h-2zM401 173h2v2h-2zM420 158h2v2h-2zM439 120h2v2h-2zM459 143h2v2h-2zM478 121h2v2h-2zM498 105h2v2h-2zM517 93h2v2h-2z"/>
<g font-size="12" fill="#000" text-anchor="end" stroke="#000" stroke-width="0.15">
<text x="72" y="61" textLength="31.7" lengthAdjust="spacingAndGlyphs">100%</text>
<text x="72" y="91" textLength="25.0" lengthAdjust="spacingAndGlyphs">90%</text>
<text x="72" y="122" textLength="25.0" lengthAdjust="spacingAndGlyphs">80%</text>
<text x="72" y="152" textLength="25.0" lengthAdjust="spacingAndGlyphs">70%</text>
<text x="72" y="183" textLength="25.0" lengthAdjust="spacingAndGlyphs">60%</text>
<text x="72" y="213" textLength="25.0" lengthAdjust="spacingAndGlyphs">50%</text>
<text x="72" y="243" textLength="25.0" lengthAdjust="spacingAndGlyphs">40%</text>
<text x="72" y="274" textLength="25.0" lengthAdjust="spacingAndGlyphs">30%</text>
<text x="72" y="304" textLength="25.0" lengthAdjust="spacingAndGlyphs">20%</text>
<text x="72" y="335" textLength="25.0" lengthAdjust="spacingAndGlyphs">10%</text>
<text x="72" y="365" textLength="18.3" lengthAdjust="spacingAndGlyphs">0%</text>
</g>
<g font-size="10.5" fill="#000" stroke="#000" stroke-width="0.15">
<text x="556" y="61" textLength="41.9" lengthAdjust="spacingAndGlyphs">1,300.00</text>
<text x="556" y="104" textLength="41.9" lengthAdjust="spacingAndGlyphs">1,250.00</text>
<text x="556" y="148" textLength="41.9" lengthAdjust="spacingAndGlyphs">1,200.00</text>
<text x="556" y="191" textLength="41.9" lengthAdjust="spacingAndGlyphs">1,150.00</text>
<text x="556" y="235" textLength="41.9" lengthAdjust="spacingAndGlyphs">1,100.00</text>
<text x="556" y="278" textLength="41.9" lengthAdjust="spacingAndGlyphs">1,050.00</text>
<text x="556" y="322" textLength="41.9" lengthAdjust="spacingAndGlyphs">1,000.00</text>
<text x="556" y="365" textLength="33.1" lengthAdjust="spacingAndGlyphs">950.00</text>
</g>
<defs><filter id="al" x="0" y="0" width="624" height="437" filterUnits="userSpaceOnUse"><feComponentTransfer><feFuncA type="discrete" tableValues="0 1 1"/></feComponentTransfer></filter></defs>
<g font-size="9.75" fill="#000" text-anchor="middle" text-rendering="geometricPrecision" stroke="#000" stroke-width="0.2">
<text x="82.8" y="378" textLength="19.6" lengthAdjust="spacingAndGlyphs">Feb-</text>
<text x="82.8" y="390" textLength="9.0" lengthAdjust="spacingAndGlyphs">10</text>
<text x="110.8" y="378" textLength="20.2" lengthAdjust="spacingAndGlyphs">Mar-</text>
<text x="110.8" y="390" textLength="9.0" lengthAdjust="spacingAndGlyphs">10</text>
<text x="138.8" y="378" textLength="18.3" lengthAdjust="spacingAndGlyphs">Apr-</text>
<text x="138.8" y="390" textLength="9.0" lengthAdjust="spacingAndGlyphs">10</text>
<text x="165.8" y="378" textLength="18.3" lengthAdjust="spacingAndGlyphs">Apr-</text>
<text x="165.8" y="390" textLength="9.0" lengthAdjust="spacingAndGlyphs">10</text>
<text x="193.8" y="378" textLength="21.3" lengthAdjust="spacingAndGlyphs">May-</text>
<text x="193.8" y="390" textLength="9.0" lengthAdjust="spacingAndGlyphs">10</text>
<text x="221.8" y="378" textLength="18.0" lengthAdjust="spacingAndGlyphs">Jun-</text>
<text x="221.8" y="390" textLength="9.0" lengthAdjust="spacingAndGlyphs">10</text>
<text x="249.8" y="378" textLength="18.0" lengthAdjust="spacingAndGlyphs">Jun-</text>
<text x="249.8" y="390" textLength="9.0" lengthAdjust="spacingAndGlyphs">10</text>
<text x="277.8" y="378" textLength="22.9" lengthAdjust="spacingAndGlyphs">Jul-10</text>
<text x="305.8" y="378" textLength="22.9" lengthAdjust="spacingAndGlyphs">Jul-10</text>
<text x="332.8" y="378" textLength="20.5" lengthAdjust="spacingAndGlyphs">Aug-</text>
<text x="332.8" y="390" textLength="9.0" lengthAdjust="spacingAndGlyphs">10</text>
<text x="360.8" y="378" textLength="20.0" lengthAdjust="spacingAndGlyphs">Sep-</text>
<text x="360.8" y="390" textLength="9.0" lengthAdjust="spacingAndGlyphs">10</text>
<text x="388.8" y="378" textLength="20.0" lengthAdjust="spacingAndGlyphs">Sep-</text>
<text x="388.8" y="390" textLength="9.0" lengthAdjust="spacingAndGlyphs">10</text>
<text x="416.8" y="378" textLength="18.4" lengthAdjust="spacingAndGlyphs">Oct-</text>
<text x="416.8" y="390" textLength="9.0" lengthAdjust="spacingAndGlyphs">10</text>
<text x="444.8" y="378" textLength="21.3" lengthAdjust="spacingAndGlyphs">Nov-</text>
<text x="444.8" y="390" textLength="9.0" lengthAdjust="spacingAndGlyphs">10</text>
<text x="471.8" y="378" textLength="21.3" lengthAdjust="spacingAndGlyphs">Nov-</text>
<text x="471.8" y="390" textLength="9.0" lengthAdjust="spacingAndGlyphs">10</text>
<text x="499.8" y="378" textLength="20.9" lengthAdjust="spacingAndGlyphs">Dec-</text>
<text x="499.8" y="390" textLength="9.0" lengthAdjust="spacingAndGlyphs">10</text>
<text x="527.8" y="378" textLength="24.1" lengthAdjust="spacingAndGlyphs">Jan-11</text>
</g>
<text x="312.5" y="34" font-size="14" font-weight="bold" text-anchor="middle" textLength="97" lengthAdjust="spacingAndGlyphs">Greatest Fear</text>
<text transform="translate(31,212) rotate(-90)" font-size="11" font-weight="bold" text-anchor="middle">Responses</text>
<text transform="translate(611,210) rotate(-90)" font-size="11" font-weight="bold" text-anchor="middle">S&amp;P 500 Level</text>
<rect x="387.5" y="7.5" width="154" height="44" fill="#fff" stroke="#000" stroke-width="1"/>
<g fill="#000">
<rect x="396" y="15" width="27" height="1"/>
<rect x="396" y="28" width="27" height="1"/>
<rect x="396" y="41" width="27" height="1"/>
<rect x="409" y="40" width="2" height="1"/>
</g>
<rect x="406" y="12" width="6" height="6" fill="#ffff00"/>
<path fill="#00ff00" d="M408 25h2v1h1v1h1v2h-1v1h-1v1h-2v-1h-1v-1h-1v-2h1v-1h1z"/>
<g font-size="11" fill="#000" stroke="#000" stroke-width="0.15">
<text x="426" y="19" textLength="91" lengthAdjust="spacingAndGlyphs">Fear of Downdraft</text>
<text x="426" y="32" textLength="109" lengthAdjust="spacingAndGlyphs">Fear of Missing Upturn</text>
<text x="426" y="45" textLength="41" lengthAdjust="spacingAndGlyphs">S&amp;P 500</text>
</g>
</svg></body></html>
